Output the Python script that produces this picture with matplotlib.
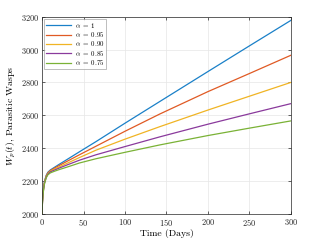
import matplotlib
matplotlib.use("Agg")
import matplotlib.pyplot as plt

# values
days = [0, 0.5, 1, 2, 3, 5, 7, 10, 15, 20, 30, 45, 65, 100, 142, 200, 250, 300]

wasps_a100 = [2000, 2080, 2120, 2170, 2200, 2235, 2254, 2268, 2284, 2300, 2331, 2378,
              2440, 2552, 2684, 2866, 3022, 3177]
wasps_a095 = [2000, 2077, 2117, 2166, 2196, 2231, 2250, 2264, 2279, 2293, 2320, 2360,
              2412, 2503, 2608, 2744, 2854, 2965]
wasps_a090 = [2000, 2075, 2114, 2162, 2192, 2227, 2246, 2260, 2273, 2285, 2308, 2343,
              2388, 2455, 2531, 2632, 2716, 2800]
wasps_a085 = [2000, 2072, 2111, 2158, 2188, 2223, 2242, 2256, 2267, 2278, 2298, 2327,
              2360, 2410, 2469, 2546, 2609, 2671]
wasps_a075 = [2000, 2070, 2108, 2155, 2185, 2220, 2238, 2250, 2260, 2269, 2285, 2310,
              2336, 2375, 2420, 2477, 2522, 2566]

labels = [r"$\alpha\;=\;1$", r"$\alpha\;=\;0.95$", r"$\alpha\;=\;0.90$",
          r"$\alpha\;=\;0.85$", r"$\alpha\;=\;0.75$"]
colors = ["#1a80c8", "#e05a24", "#f0b424", "#8a3a9c", "#7ab236"]

plt.rcParams["font.family"] = "cmr10"
plt.rcParams["mathtext.fontset"] = "cm"
plt.rcParams["axes.formatter.use_mathtext"] = True

fig = plt.figure(figsize=(3.21, 2.41), dpi=100)
ax = fig.add_axes([0.131, 0.112, 0.775, 0.819])

series = [wasps_a100, wasps_a095, wasps_a090, wasps_a085, wasps_a075]
for vals, lab, col in zip(series, labels, colors):
    ax.plot(days, vals, color=col, lw=0.9, label=lab)

ax.set_xlim(0, 300)
ax.set_ylim(2000, 3200)
ax.set_xticks([0, 50, 100, 150, 200, 250, 300])
ax.set_yticks([2000, 2200, 2400, 2600, 2800, 3000, 3200])
ax.grid(True, color="#e6e6e6", lw=0.5)
ax.set_axisbelow(True)
ax.tick_params(direction="in", length=2, width=0.5, labelsize=6,
               top=True, right=True, colors="#262626", pad=2)
for sp in ax.spines.values():
    sp.set_color("#262626")
    sp.set_linewidth(0.5)

ax.set_xlabel("Time (Days)", fontsize=7, labelpad=1)
ax.set_ylabel(r"$W_p(t)$, Parasitic Wasps", fontsize=7, labelpad=2)

leg = ax.legend(loc="upper left", fontsize=5, frameon=True, fancybox=False,
                handlelength=3.6, handletextpad=0.5, borderpad=0.3,
                labelspacing=0.05, borderaxespad=0.3)
leg.get_frame().set_edgecolor("#8c8c8c")
leg.get_frame().set_linewidth(0.5)

fig.savefig("out.png", dpi=100)
